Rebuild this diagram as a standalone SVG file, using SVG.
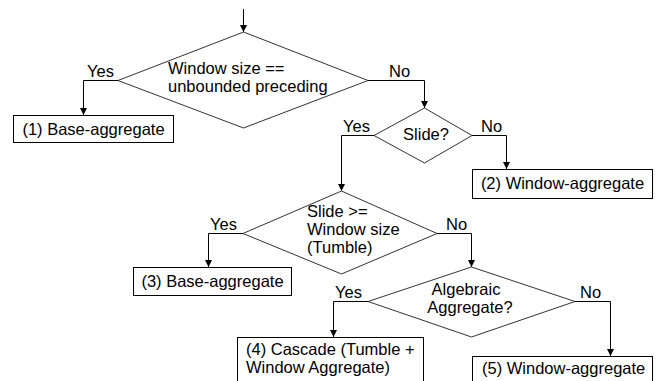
<svg xmlns="http://www.w3.org/2000/svg" width="663" height="381" viewBox="0 0 663 381">
<style>
  .shape { fill: #fff; stroke: #000; stroke-width: 1; }
  .dia { fill: #fff; stroke: #333; stroke-width: 1; }
  .conn { fill: none; stroke: #000; stroke-width: 1; }
  text { font-family: "Liberation Sans", Arial, sans-serif; font-size: 16.5px; fill: #000; }
  .mid { text-anchor: middle; }
</style>
<defs>
  <marker id="arrow" markerUnits="userSpaceOnUse" markerWidth="8" markerHeight="8" refX="7" refY="3.5" orient="auto">
    <path d="M0,0 L7,3.5 L0,7 z" fill="#000"/>
  </marker>
</defs>
<rect width="663" height="381" fill="#fff"/>

<g id="connectors">
  <path class="conn" d="M243.5,9 L243.5,32" marker-end="url(#arrow)"/>
  <path class="conn" d="M118,80.5 L83.5,80.5 L83.5,115" marker-end="url(#arrow)"/>
  <path class="conn" d="M368,80.5 L424.5,80.5 L424.5,108" marker-end="url(#arrow)"/>
  <path class="conn" d="M374,135.5 L341.5,135.5 L341.5,191" marker-end="url(#arrow)"/>
  <path class="conn" d="M472,135.5 L506.5,135.5 L506.5,169" marker-end="url(#arrow)"/>
  <path class="conn" d="M243,233.5 L208.5,233.5 L208.5,267" marker-end="url(#arrow)"/>
  <path class="conn" d="M437,233.5 L471.5,233.5 L471.5,267" marker-end="url(#arrow)"/>
  <path class="conn" d="M368,301.5 L333.5,301.5 L333.5,337" marker-end="url(#arrow)"/>
  <path class="conn" d="M575,301.5 L610.5,301.5 L610.5,356" marker-end="url(#arrow)"/>
</g>

<g id="labels">
  <text x="87" y="77">Yes</text>
  <text x="389" y="77">No</text>
  <text x="343" y="132">Yes</text>
  <text x="481" y="132">No</text>
  <text x="210" y="230">Yes</text>
  <text x="446" y="230">No</text>
  <text x="335" y="298">Yes</text>
  <text x="580" y="298">No</text>
</g>

<g id="decision1">
  <polygon class="dia" points="243.5,32 368,80.5 243.5,128 118,80.5"/>
  <text x="168" y="74">Window size ==</text>
  <text x="168" y="92">unbounded preceding</text>
</g>

<g id="result1">
  <rect class="shape" x="13.5" y="115.5" width="160" height="27"/>
  <text class="mid" x="93.5" y="135">(1) Base-aggregate</text>
</g>

<g id="decision2">
  <polygon class="dia" points="424.5,108 472,135.5 424.5,163 374,135.5"/>
  <text class="mid" x="426" y="140">Slide?</text>
</g>

<g id="result2">
  <rect class="shape" x="472.5" y="169.5" width="180" height="29"/>
  <text class="mid" x="562.5" y="189">(2) Window-aggregate</text>
</g>

<g id="decision3">
  <polygon class="dia" points="341.5,191 437,233.5 341.5,274 243,233.5"/>
  <text x="307" y="217">Slide &gt;=</text>
  <text x="307" y="235">Window size</text>
  <text x="307" y="253">(Tumble)</text>
</g>

<g id="result3">
  <rect class="shape" x="133.5" y="267.5" width="158" height="28"/>
  <text class="mid" x="212.5" y="287">(3) Base-aggregate</text>
</g>

<g id="decision4">
  <polygon class="dia" points="471.5,267 575,301.5 471.5,337 368,301.5"/>
  <text class="mid" x="466" y="295">Algebraic</text>
  <text class="mid" x="470" y="313">Aggregate?</text>
</g>

<g id="result4">
  <rect class="shape" x="237.5" y="337.5" width="186" height="60"/>
  <text x="246" y="355">(4) Cascade (Tumble +</text>
  <text x="246" y="373">Window Aggregate)</text>
</g>

<g id="result5">
  <rect class="shape" x="472.5" y="356.5" width="180" height="40"/>
  <text x="482" y="374">(5) Window-aggregate</text>
</g>
</svg>
